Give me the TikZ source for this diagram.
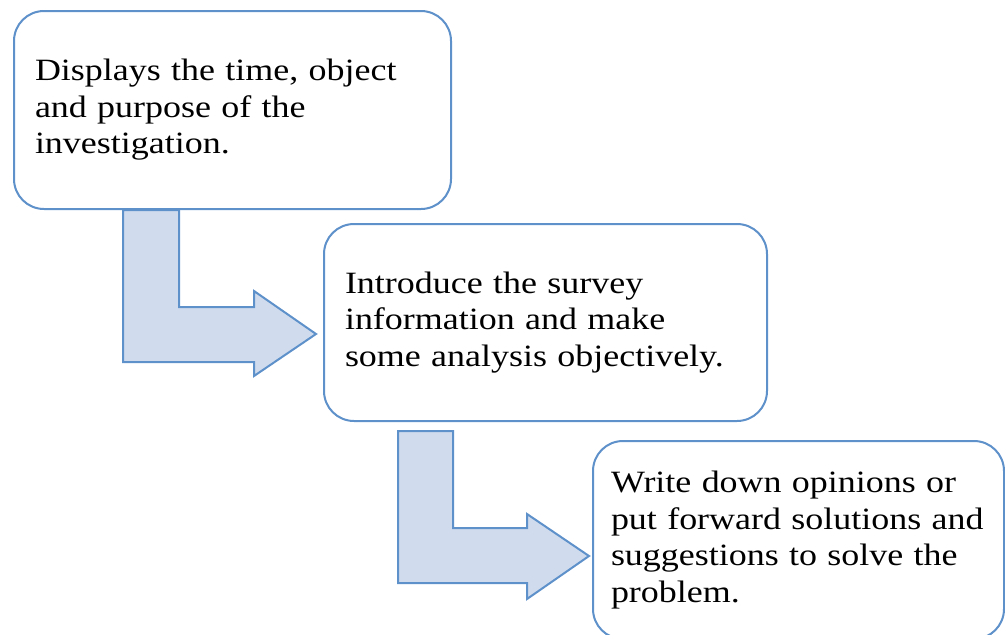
\documentclass[tikz,border=0pt]{standalone}
\usepackage{fontspec}
\setmainfont{Liberation Serif}[FakeStretch=1.16]
\usetikzlibrary{calc}
\definecolor{edgeblue}{RGB}{94,144,202}
\definecolor{arrowfill}{RGB}{208,220,238}
\begin{document}
\begin{tikzpicture}[x=1pt,y=-1pt,
  stepbox/.style={draw=edgeblue, line width=2pt, fill=white, rounded corners=30pt,
    inner xsep=21pt, inner ysep=0pt, align=left,
    font=\fontsize{31}{36.5}\selectfont},
  bentarrow/.style={draw=edgeblue, line width=2pt, fill=arrowfill, line join=miter}]
\useasboundingbox (0,0) rectangle (1005,635);
\begin{scope}
\clip (0,0) rectangle (1005,635);
% bent arrows
\draw[bentarrow] (123,210) -- (179,210) -- (179,307) -- (254,307) -- (254,291)
  -- (316,334) -- (254,376) -- (254,362) -- (123,362) -- cycle;
\draw[bentarrow] (398,431) -- (453,431) -- (453,528) -- (527,528) -- (527,514)
  -- (589,556) -- (527,599) -- (527,583) -- (398,583) -- cycle;
% boxes
\node[stepbox, minimum width=437pt, minimum height=198pt, text width=395pt] (b1) at (232.5,110)
  {Displays the time, object\\and purpose of the\\investigation.};
\node[stepbox, minimum width=443pt, minimum height=197pt, text width=401pt] (b2) at (545.5,322.5)
  {Introduce the survey\\information and make\\some analysis objectively.};
\node[stepbox, minimum width=411pt, minimum height=198pt, text width=375pt, inner xsep=18pt] (b3) at (798.5,540)
  {Write down opinions or\\put forward solutions and\\suggestions to solve the\\problem.};
\end{scope}
\end{tikzpicture}
\end{document}
